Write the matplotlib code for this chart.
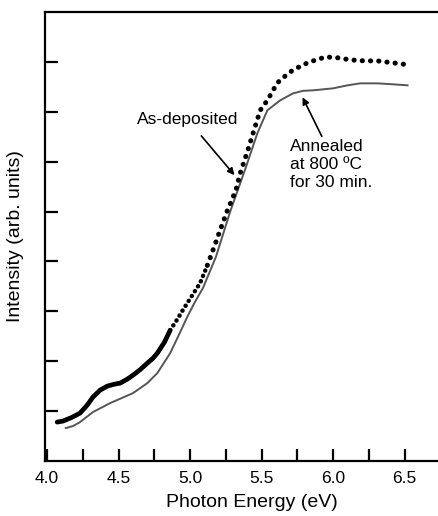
import matplotlib
matplotlib.use('Agg')
import matplotlib.pyplot as plt
import numpy as np

plt.rcParams['font.family'] = ['Liberation Sans', 'DejaVu Sans']

# As-deposited film (dotted trace)
energy_dep = [4.07, 4.11, 4.17, 4.23, 4.28, 4.32, 4.37, 4.42, 4.47, 4.51, 4.56, 4.60, 4.65,
              4.70, 4.74, 4.77, 4.82, 4.86, 4.91, 4.95, 5.01, 5.07, 5.12, 5.16, 5.21,
              5.26, 5.32, 5.35, 5.40, 5.44, 5.49, 5.54, 5.61, 5.67, 5.72, 5.82, 5.88,
              5.95, 6.04, 6.12, 6.22, 6.31, 6.42, 6.53]
intens_dep = [0.78, 0.80, 0.87, 0.96, 1.12, 1.28, 1.42, 1.50, 1.54, 1.56, 1.64, 1.72, 1.83,
              1.96, 2.06, 2.16, 2.38, 2.62, 2.84, 3.03, 3.30, 3.57, 3.92, 4.23, 4.63,
              5.02, 5.43, 5.77, 6.20, 6.57, 7.03, 7.23, 7.58, 7.73, 7.84, 7.98, 8.04,
              8.10, 8.08, 8.04, 8.02, 8.02, 7.98, 7.94]

# Annealed at 800 C for 30 min (solid trace)
energy_ann = [4.13, 4.18, 4.23, 4.32, 4.44, 4.52, 4.60, 4.70, 4.77, 4.86, 4.92, 4.98, 5.03,
              5.09, 5.18, 5.28, 5.39, 5.47, 5.54, 5.63, 5.72, 5.79, 5.86, 6.00, 6.10,
              6.19, 6.31, 6.42, 6.52]
intens_ann = [0.66, 0.70, 0.78, 0.98, 1.16, 1.26, 1.36, 1.56, 1.76, 2.16, 2.52, 2.89, 3.17,
              3.47, 4.09, 5.00, 5.89, 6.57, 7.03, 7.23, 7.37, 7.42, 7.43, 7.47, 7.53,
              7.57, 7.57, 7.55, 7.53]

x_ticks = [4.0, 4.25, 4.5, 4.75, 5.0, 5.25, 5.5, 5.75, 6.0, 6.25, 6.5, 6.75]
x_labels = ['4.0', '', '4.5', '', '5.0', '', '5.5', '', '6.0', '', '6.5', '']
y_ticks = [1, 2, 3, 4, 5, 6, 7, 8]

fig = plt.figure(figsize=(4.38, 5.16), dpi=100)
ax = fig.add_axes([45 / 438, 1 - 461 / 516, (459 - 45) / 438, (461 - 12) / 516])

ax.plot(energy_ann, intens_ann, color='#555555', lw=1.4)

# as-deposited: merged points at low energy, tight dots, then wider dots
i1, i2 = 17, 22
ax.plot(energy_dep[:i1 + 1], intens_dep[:i1 + 1], color='black', lw=3.4,
        solid_capstyle='round')
ax.plot(energy_dep[i1:i2 + 1], intens_dep[i1:i2 + 1], color='black', lw=3.2,
        linestyle=(0, (0.05, 1.25)), dash_capstyle='round')
ax.plot(energy_dep[i2:], intens_dep[i2:], color='black', lw=3.6,
        linestyle=(0, (0.05, 1.6)), dash_capstyle='round')

ax.annotate('As-deposited', xy=(5.31, 5.73), xytext=(4.98, 6.85),
            ha='center', va='center', fontsize=12.5,
            arrowprops=dict(arrowstyle='-|>', color='black', lw=1.2,
                            mutation_scale=10, shrinkA=6, shrinkB=0))
ax.annotate('Annealed\nat 800 \u00baC\nfor 30 min.', xy=(5.786, 7.29), xytext=(5.70, 6.45),
            ha='left', va='top', fontsize=12.5, linespacing=1.25,
            arrowprops=dict(arrowstyle='-|>', color='black', lw=1.2,
                            mutation_scale=10, shrinkA=0, shrinkB=0,
                            relpos=(0.4, 1.0)))

ax.set_xlim(3.985, 6.88)
ax.set_ylim(0, 9)
ax.set_xticks(x_ticks)
ax.set_xticklabels(x_labels)
ax.set_yticks(y_ticks)
ax.set_yticklabels([])
ax.tick_params(direction='in', length=9, width=1.6, labelsize=12.5, pad=7)
for s in ax.spines.values():
    s.set_linewidth(1.6)

ax.set_xlabel('Photon Energy (eV)', fontsize=14, labelpad=6)
ax.set_ylabel('Intensity (arb. units)', fontsize=14, labelpad=8)

fig.savefig('out.png', dpi=100)
